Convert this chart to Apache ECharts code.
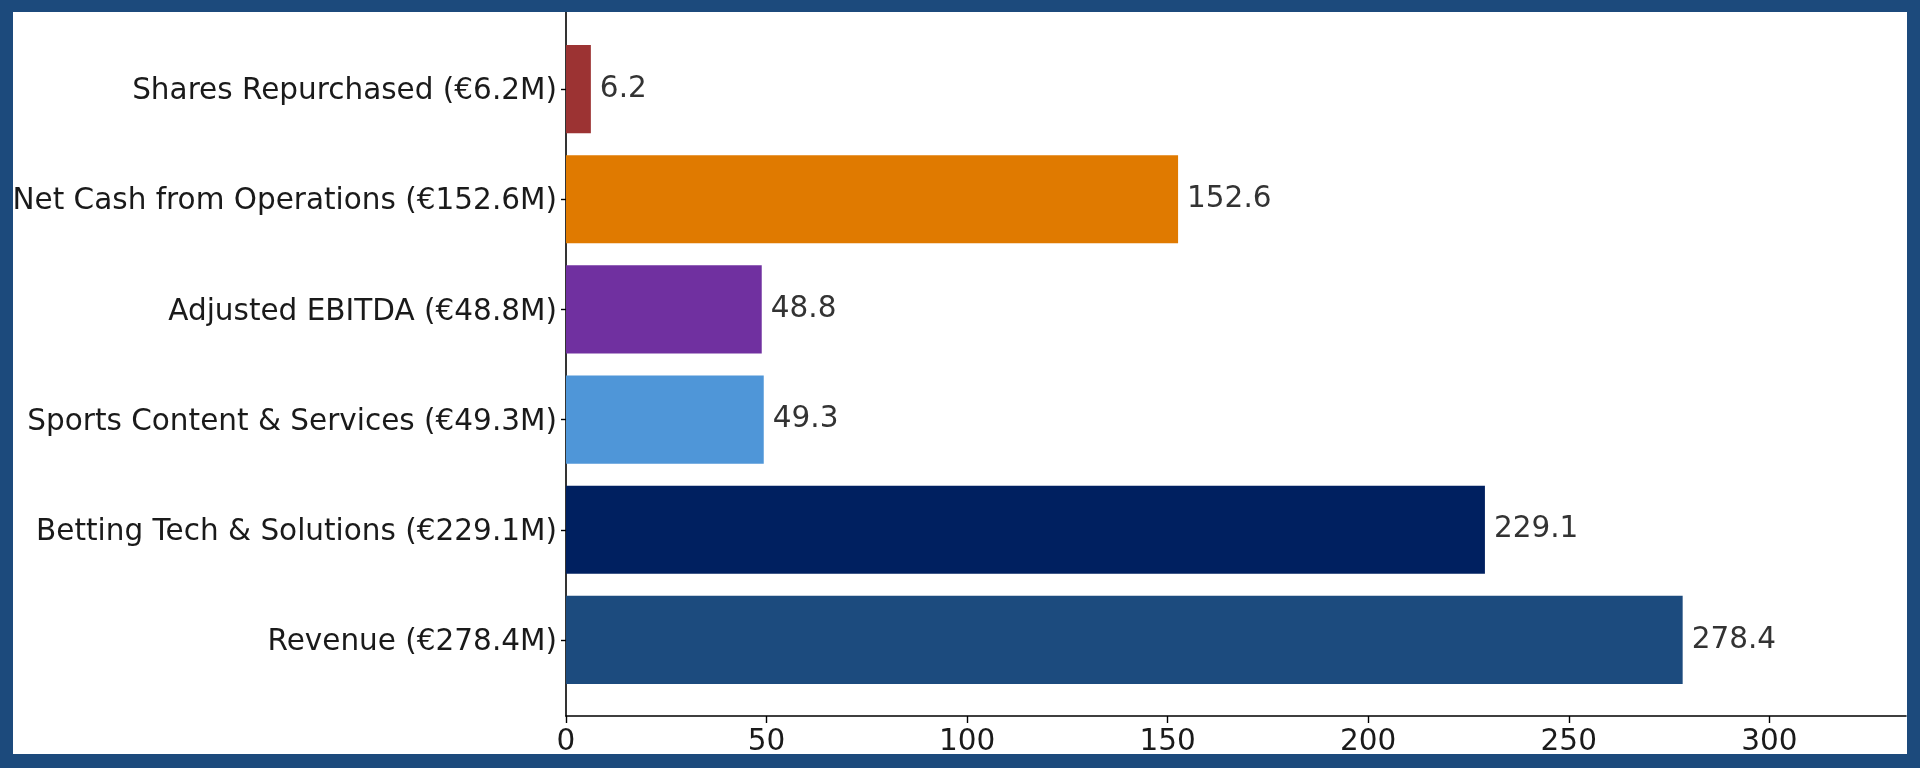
<!DOCTYPE html>
<html>
<head>
<meta charset="utf-8">
<script src="https://cdn.jsdelivr.net/npm/echarts@6/dist/echarts.min.js"></script>
<style>
  html, body { margin: 0; padding: 0; width: 1920px; height: 768px; background: #1c4a7c; overflow: hidden; }
  #main { position: absolute; left: 13px; top: 12px; width: 1894px; height: 742px; background: #ffffff; }
</style>
</head>
<body>
<div id="main"></div>
<script>
// bottom to top, as drawn
const categories = [
  'Revenue (€278.4M)',
  'Betting Tech & Solutions (€229.1M)',
  'Sports Content & Services (€49.3M)',
  'Adjusted EBITDA (€48.8M)',
  'Net Cash from Operations (€152.6M)',
  'Shares Repurchased (€6.2M)'
];
const values = [278.4, 229.1, 49.3, 48.8, 152.6, 6.2];
const barColors = ['#1c4b7e', '#002060', '#4f96d8', '#7030a0', '#e07a00', '#9c3333'];
const xTicks = [0, 50, 100, 150, 200, 250, 300];

const font = 'DejaVu Sans';
const fs = 29.5;
const chart = echarts.init(document.getElementById('main'));

chart.setOption({
  animation: false,
  grid: [
    { left: 553, right: 1, top: 22, bottom: 59, outerBoundsMode: 'none', containLabel: false },
    { left: 553, right: 1, top: 0, bottom: 38, outerBoundsMode: 'none', containLabel: false } // frame lines only
  ],
  xAxis: [
    {
      type: 'value',
      gridIndex: 0,
      min: 0,
      max: 334.08,
      interval: 50,
      offset: 21,
      axisLine: { show: true, lineStyle: { color: '#000', width: 1.6 } },
      axisTick: { show: true, length: 7, customValues: xTicks, lineStyle: { color: '#000', width: 1.4 } },
      axisLabel: { fontSize: fs, fontFamily: font, color: '#1a1a1a', margin: 11, customValues: xTicks },
      splitLine: { show: false }
    },
    { type: 'value', gridIndex: 1, min: 0, max: 1, show: false }
  ],
  yAxis: [
    {
      type: 'category',
      gridIndex: 0,
      data: categories,
      axisLine: { show: false },
      axisTick: { show: true, alignWithLabel: true, length: 5, lineStyle: { color: '#000', width: 1.4 } },
      axisLabel: {
        fontSize: fs, fontFamily: font, color: '#1a1a1a', margin: 9,
        verticalAlign: 'top', lineHeight: 5
      }
    },
    {
      type: 'value',
      gridIndex: 1,
      min: 0,
      max: 1,
      axisLine: { show: true, onZero: false, lineStyle: { color: '#000', width: 1.6 } },
      axisTick: { show: false },
      axisLabel: { show: false },
      splitLine: { show: false }
    }
  ],
  series: [{
    type: 'bar',
    xAxisIndex: 0,
    yAxisIndex: 0,
    barWidth: '80%',
    data: values.map((v, i) => ({ value: v, itemStyle: { color: barColors[i] } })),
    label: {
      show: true,
      position: 'right',
      distance: 9,
      fontSize: fs,
      fontFamily: font,
      color: '#333333',
      formatter: p => p.value.toFixed(1)
    }
  }]
});
</script>
</body>
</html>
